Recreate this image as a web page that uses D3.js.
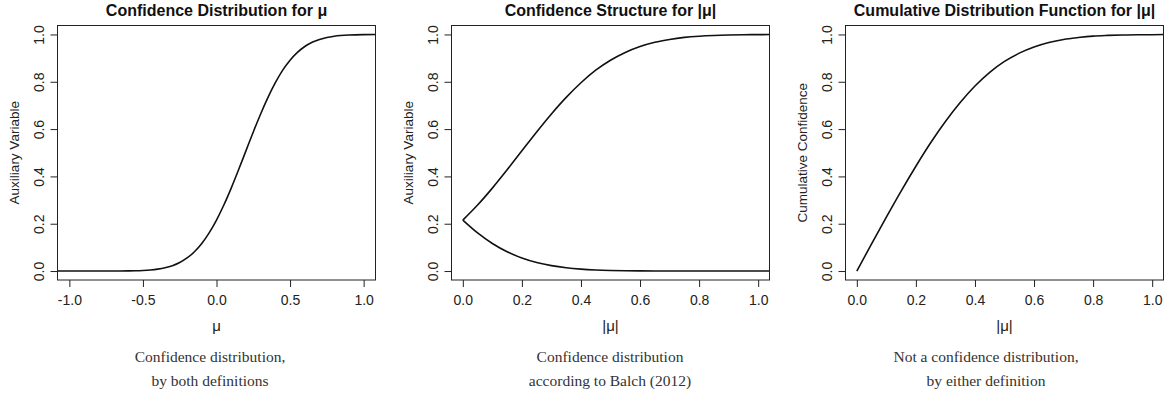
<!DOCTYPE html>
<html>
    <head>
        <meta charset="utf-8">
        <title>Confidence distributions</title>
        <style>
body {
    margin: 0;
    background-color: white;
}

svg {
    display: block;
    background-color: white;
    font-family: 'Liberation Sans', Arial, sans-serif;
}

.frame {
    fill: none;
    stroke: #222;
    stroke-width: 1;
}

.curve {
    fill: none;
    stroke: #111;
    stroke-width: 1.6;
}

.tick line {
    stroke: #222;
}

.tick text {
    fill: #222;
    font-size: 14px;
}

.title {
    font-size: 16px;
    font-weight: bold;
    fill: #111;
}

.ylab {
    font-size: 13.5px;
    fill: #222;
}

.xlab {
    font-size: 15px;
    fill: #222;
}

.caption {
    font-family: 'Liberation Serif', 'DejaVu Serif', serif;
    font-size: 15.5px;
    fill: #333;
}
</style>
        <script src="https://d3js.org/d3.v7.min.js"></script>
    </head>
    <body>
        <script>
// ---- data ----

// panel 1: confidence distribution for mu
var muX = [-1.10, -1.00, -0.90, -0.80, -0.70, -0.60, -0.55, -0.50, -0.45, -0.40,
           -0.35, -0.30, -0.25, -0.20, -0.15, -0.10, -0.05, 0.00, 0.05, 0.10,
           0.15, 0.20, 0.25, 0.30, 0.35, 0.40, 0.45, 0.50, 0.55, 0.60,
           0.65, 0.70, 0.75, 0.80, 0.90, 1.00, 1.10];
var muConf = [0.000, 0.000, 0.000, 0.000, 0.0002, 0.0007, 0.0013, 0.0025, 0.0046, 0.0081,
              0.0138, 0.0228, 0.0361, 0.0552, 0.0817, 0.1166, 0.1611, 0.2154, 0.2790, 0.3505,
              0.4278, 0.508, 0.588, 0.664, 0.734, 0.796, 0.849, 0.891, 0.924, 0.949,
              0.967, 0.979, 0.9875, 0.9927, 0.9978, 0.9994, 0.9998];

// panels 2 and 3: |mu|
var absX = [0.00, 0.05, 0.10, 0.15, 0.20, 0.25, 0.30, 0.35, 0.40, 0.45, 0.50,
            0.55, 0.60, 0.65, 0.70, 0.75, 0.80, 0.85, 0.90, 0.95, 1.00, 1.06];
var structUpper = [0.2154, 0.2790, 0.3505, 0.4278, 0.508, 0.588, 0.664, 0.734, 0.796, 0.849, 0.891,
                   0.924, 0.949, 0.967, 0.979, 0.9875, 0.9927, 0.9959, 0.9978, 0.9989, 0.9994, 0.9997];
var structLower = [0.2154, 0.1611, 0.1166, 0.0817, 0.0552, 0.0361, 0.0228, 0.0138, 0.0081, 0.0046, 0.0025,
                   0.0013, 0.0007, 0.0003, 0.0002, 0.0001, 0.000, 0.000, 0.000, 0.000, 0.000, 0.000];
var absCdf = [0.000, 0.115, 0.228, 0.338, 0.443, 0.542, 0.632, 0.712, 0.782, 0.840, 0.886,
              0.921, 0.947, 0.966, 0.979, 0.987, 0.993, 0.996, 0.998, 0.999, 0.999, 1.000];

// ticks and text
var muTicks = [-1.0, -0.5, 0.0, 0.5, 1.0];
var muTickLabels = ['-1.0', '-0.5', '0.0', '0.5', '1.0'];
var absTicks = [0.0, 0.2, 0.4, 0.6, 0.8, 1.0];
var absTickLabels = ['0.0', '0.2', '0.4', '0.6', '0.8', '1.0'];
var yTicks = [0.0, 0.2, 0.4, 0.6, 0.8, 1.0];
var yTickLabels = ['0.0', '0.2', '0.4', '0.6', '0.8', '1.0'];

var titles = ['Confidence Distribution for \u03bc', 'Confidence Structure for |\u03bc|',
              'Cumulative Distribution Function for |\u03bc|'];
var xLabels = ['\u03bc', '|\u03bc|', '|\u03bc|'];
var yLabels = ['Auxiliary Variable', 'Auxiliary Variable', 'Cumulative Confidence'];
var captions = [['Confidence distribution,', 'by both definitions'],
                ['Confidence distribution', 'according to Balch (2012)'],
                ['Not a confidence distribution,', 'by either definition']];

// ---- layout ----
var width = 1169,
    height = 408;

var plotLeft = [57, 451, 845],
    plotWidth = 319,
    plotTop = 25,
    plotBottom = 280.5,
    captionX = [210, 610, 986];

var panels = [
    { xDomain: [-1.084, 1.084], ticks: muTicks, tickLabels: muTickLabels,
      series: [{ x: muX, y: muConf }] },
    { xDomain: [-0.04, 1.04], ticks: absTicks, tickLabels: absTickLabels,
      series: [{ x: absX, y: structUpper }, { x: absX, y: structLower }] },
    { xDomain: [-0.04, 1.04], ticks: absTicks, tickLabels: absTickLabels,
      series: [{ x: absX, y: absCdf }] }
];

var svg = d3.select('body')
    .append('svg')
    .attr('width', width)
    .attr('height', height);

var y = d3.scaleLinear()
    .domain([-0.04, 1.04])
    .range([plotBottom, plotTop]);

panels.forEach(function (p, i) {
    var left = plotLeft[i],
        right = left + plotWidth;

    var x = d3.scaleLinear()
        .domain(p.xDomain)
        .range([left, right]);

    var g = svg.append('g');

    g.append('clipPath')
        .attr('id', 'clip' + i)
        .append('rect')
        .attr('x', left)
        .attr('y', plotTop)
        .attr('width', plotWidth)
        .attr('height', plotBottom - plotTop);

    var line = d3.line()
        .x(function (d) { return x(d[0]); })
        .y(function (d) { return y(d[1]); })
        .curve(d3.curveMonotoneX);

    p.series.forEach(function (s) {
        g.append('path')
            .attr('class', 'curve')
            .attr('clip-path', 'url(#clip' + i + ')')
            .attr('d', line(d3.zip(s.x, s.y)));
    });

    g.append('rect')
        .attr('class', 'frame')
        .attr('x', left + 0.5)
        .attr('y', plotTop + 0.5)
        .attr('width', plotWidth - 1)
        .attr('height', plotBottom - plotTop - 1);

    var xAxis = g.append('g')
        .attr('transform', 'translate(0,' + (plotBottom - 0.5) + ')')
        .call(d3.axisBottom(x)
            .tickValues(p.ticks)
            .tickSize(7)
            .tickPadding(8)
            .tickFormat(function (d, k) { return p.tickLabels[k]; }));
    xAxis.select('.domain').remove();
    xAxis.attr('font-family', null).attr('font-size', null);

    var yAxis = g.append('g')
        .attr('transform', 'translate(' + (left + 0.5) + ',0)')
        .call(d3.axisLeft(y)
            .tickValues(yTicks)
            .tickSize(7)
            .tickFormat(function (d, k) { return yTickLabels[k]; }));
    yAxis.select('.domain').remove();
    yAxis.attr('font-family', null).attr('font-size', null);
    yAxis.selectAll('.tick text')
        .attr('x', null)
        .attr('dy', null)
        .attr('text-anchor', 'middle')
        .attr('transform', 'translate(-14,0) rotate(-90)');

    g.append('text')
        .attr('class', 'title')
        .attr('x', (left + right) / 2)
        .attr('y', 15.5)
        .attr('text-anchor', 'middle')
        .text(titles[i]);

    g.append('text')
        .attr('class', 'xlab')
        .attr('x', (left + right) / 2)
        .attr('y', 331)
        .attr('text-anchor', 'middle')
        .text(xLabels[i]);

    g.append('text')
        .attr('class', 'ylab')
        .attr('transform', 'translate(' + (left - 38) + ',' + ((plotTop + plotBottom) / 2) + ') rotate(-90)')
        .attr('text-anchor', 'middle')
        .text(yLabels[i]);

    captions[i].forEach(function (c, k) {
        g.append('text')
            .attr('class', 'caption')
            .attr('x', captionX[i])
            .attr('y', 362 + k * 24)
            .attr('text-anchor', 'middle')
            .text(c);
    });
});
        </script>
    </body>
</html>
